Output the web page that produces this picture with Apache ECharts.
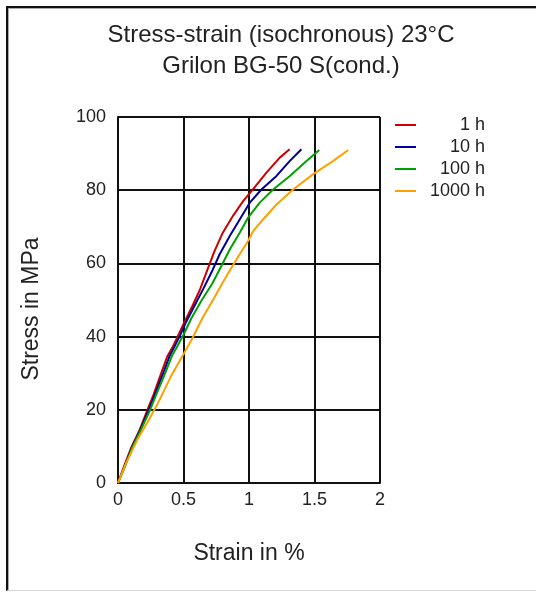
<!DOCTYPE html>
<html>
<head>
<meta charset="utf-8">
<script src="https://cdn.jsdelivr.net/npm/echarts@6/dist/echarts.min.js"></script>
<style>
  html, body { margin: 0; padding: 0; background: #fff; overflow: hidden; }
  #chart { position: absolute; left: 0; top: 0; width: 536px; height: 592px; }
  #frame { position: absolute; left: 6px; top: 6px; width: 560px; height: 582px;
           border-top: 2px solid #111; border-left: 2px solid #111; border-bottom: 1px solid #d6d6d6;
           box-shadow: inset 1px 1px 0 #aaa; pointer-events: none; }
</style>
</head>
<body>
<div id="chart"></div>
<div id="frame"></div>
<script>
// ---- data ----
var seriesNames = ['1 h', '10 h', '100 h', '1000 h'];
var seriesColors = ['#cc0000', '#000099', '#00a000', '#ffa000'];

var strain_1h = [0, 0.045, 0.105, 0.165, 0.225, 0.27, 0.33, 0.375, 0.415, 0.455, 0.505, 0.567, 0.625, 0.68, 0.735, 0.8, 0.878, 0.955, 1.03, 1.133, 1.235, 1.31];
var stress_1h = [0, 4.5, 10, 14.5, 20, 24, 30, 34.5, 37, 40, 43.8, 48.3, 52.8, 58, 63.2, 68.4, 73, 77, 80.2, 84.8, 88.9, 91.2];

var strain_10h = [0, 0.05, 0.11, 0.17, 0.235, 0.28, 0.345, 0.395, 0.43, 0.47, 0.52, 0.585, 0.649, 0.713, 0.776, 0.853, 0.929, 1.006, 1.095, 1.21, 1.312, 1.4];
var stress_10h = [0, 4.5, 10, 14.5, 20, 24, 30, 34.8, 37.2, 40, 44, 48.5, 52.9, 57.5, 62.5, 67.5, 72, 76.6, 80.2, 83.9, 88, 91.2];

var strain_100h = [0, 0.052, 0.112, 0.175, 0.245, 0.29, 0.36, 0.415, 0.455, 0.5, 0.56, 0.64, 0.72, 0.789, 0.853, 0.929, 0.993, 1.082, 1.184, 1.312, 1.439, 1.536];
var stress_100h = [0, 4.5, 10, 14.5, 20, 24, 30, 35, 37.5, 40.5, 45, 50, 54.5, 59.3, 63.8, 68.4, 72.5, 76.6, 80.2, 83.9, 88, 91];

var strain_1000h = [0, 0.06, 0.147, 0.236, 0.312, 0.402, 0.491, 0.567, 0.644, 0.733, 0.795, 0.866, 0.929, 0.993, 1.031, 1.107, 1.21, 1.337, 1.49, 1.643, 1.758];
var stress_1000h = [0, 5.3, 11.8, 17.3, 22.3, 29, 34.6, 39.5, 45, 50.5, 54.5, 58.8, 62.5, 66.1, 68.8, 72, 76.1, 80.2, 84.4, 88, 91];

var xTicks = { min: 0, max: 2, interval: 0.5 };
var yTicks = { min: 0, max: 100, interval: 20 };

var titleText = 'Stress-strain (isochronous) 23°C\nGrilon BG-50 S(cond.)';
var xName = 'Strain in %';
var yName = 'Stress in MPa';

// ---- build ----
function zip(xs, ys) { return xs.map(function (x, i) { return [x, ys[i]]; }); }
var allData = [zip(strain_1h, stress_1h), zip(strain_10h, stress_10h), zip(strain_100h, stress_100h), zip(strain_1000h, stress_1000h)];

var FONT = "'Liberation Sans', Arial, sans-serif";
var chart = echarts.init(document.getElementById('chart'), null, { renderer: 'canvas' });

var option = {
  animation: false,
  backgroundColor: 'transparent',
  title: {
    text: titleText,
    left: 276,
    top: 15,
    textAlign: 'center',
    textStyle: { fontFamily: FONT, fontSize: 24, fontWeight: 'normal', color: '#222', lineHeight: 31 }
  },
  legend: {
    orient: 'vertical',
    left: 395,
    top: 116,
    padding: 0,
    itemGap: 4,
    itemWidth: 21,
    itemHeight: 2,
    icon: 'rect',
    data: seriesNames,
    formatter: function (n) { return '{a|' + n + '}'; },
    textStyle: {
      fontFamily: FONT, fontSize: 18, color: '#222',
      rich: { a: { width: 64, height: 18, lineHeight: 18, align: 'right', fontFamily: FONT, fontSize: 18, color: '#222' } }
    }
  },
  grid: { left: 118, top: 117, width: 262, height: 366, containLabel: false },
  xAxis: {
    type: 'value',
    min: xTicks.min, max: xTicks.max, interval: xTicks.interval,
    name: xName,
    nameLocation: 'middle',
    nameGap: 59,
    nameTextStyle: { fontFamily: FONT, fontSize: 23, color: '#222' },
    axisLine: { show: true, lineStyle: { color: '#111', width: 2 } },
    axisTick: { show: false },
    splitLine: { show: true, lineStyle: { color: '#111', width: 2 } },
    axisLabel: { fontFamily: FONT, fontSize: 18, color: '#222', margin: 8 }
  },
  yAxis: {
    type: 'value',
    min: yTicks.min, max: yTicks.max, interval: yTicks.interval,
    name: yName,
    nameLocation: 'middle',
    nameGap: 75,
    nameRotate: 90,
    nameTextStyle: { fontFamily: FONT, fontSize: 23, color: '#222', padding: [0, 18, 0, 0] },
    axisLine: { show: true, lineStyle: { color: '#111', width: 2 } },
    axisTick: { show: false },
    splitLine: { show: true, lineStyle: { color: '#111', width: 2 } },
    axisLabel: { fontFamily: FONT, fontSize: 18, color: '#222', margin: 12 }
  },
  series: seriesNames.map(function (name, i) {
    return {
      name: name,
      type: 'line',
      data: allData[i],
      symbol: 'none',
      showSymbol: false,
      smooth: false,
      color: seriesColors[i],
      lineStyle: { color: seriesColors[i], width: 2 }
    };
  })
};
chart.setOption(option);
</script>
</body>
</html>
